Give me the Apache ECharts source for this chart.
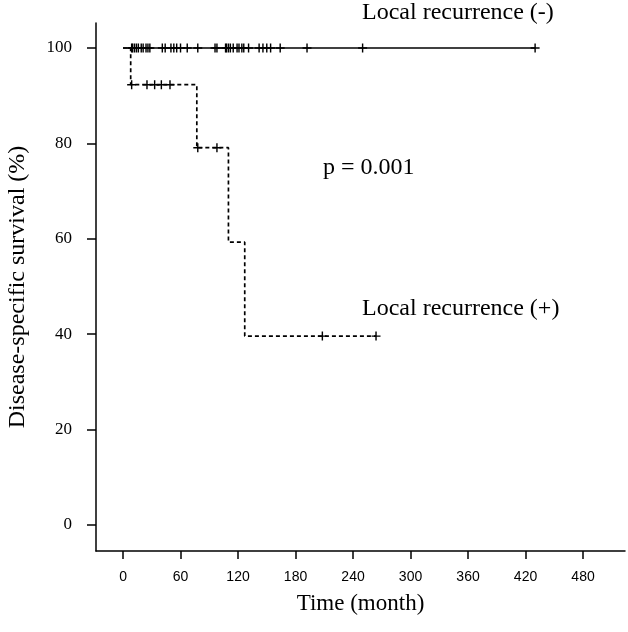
<!DOCTYPE html>
<html>
<head>
<meta charset="utf-8">
<script src="https://cdn.jsdelivr.net/npm/echarts@6/dist/echarts.min.js"></script>
<style>
  html, body { margin: 0; padding: 0; background: #fff; }
  #main { width: 628px; height: 632px; }
</style>
</head>
<body>
<div id="main"></div>
<script>
// tick labels
var xTicks = [0, 60, 120, 180, 240, 300, 360, 420, 480];
var yTicks = [0, 20, 40, 60, 80, 100];

// Local recurrence (-) : no events, survival stays 100
var negCurve = [[0, 100], [430, 100]];
var negCensorTimes = [9, 10, 12, 14, 16, 19, 21, 24, 26, 28, 41, 44, 50, 53, 56, 60, 67, 78,
    96, 98, 107, 108, 110, 112, 115, 119, 121, 124, 126, 131, 142, 146, 150, 154, 164, 192, 250, 430];

// Local recurrence (+) : step curve (time, survival after event)
var posCurve = [[0, 100], [8, 92.3], [77, 79.1], [110, 59.3], [127, 39.6], [264, 39.6]];
var posCensor = [[9, 92.3], [25, 92.3], [33, 92.3], [40, 92.3], [49, 92.3],
    [78, 79.1], [98, 79.1], [208, 39.6], [264, 39.6]];

var negCensor = negCensorTimes.map(function (t) { return [t, 100]; });

// plus sign for censored obs
var plusSym = 'path://M4,0h1.5v9.5h-1.5z M0,4h9.5v1.5h-9.5z';

var serif = '"Liberation Serif", "DejaVu Serif", serif';
var sans = '"Liberation Sans", Arial, sans-serif';

var myChart = echarts.init(document.getElementById('main'));

var option = {
    backgroundColor: '#fff',
    animation: false,
    grid: { left: 96, top: 23, width: 529, height: 528, containLabel: false, outerBoundsMode: 'none' },
    xAxis: {
        type: 'value',
        min: -28.2,
        max: 523.8,
        name: 'Time (month)',
        nameLocation: 'middle',
        nameGap: 41,
        nameTextStyle: { fontFamily: serif, fontSize: 23, color: '#000' },
        axisLine: { show: true, onZero: false, lineStyle: { color: '#000', width: 1.5 } },
        axisTick: { show: true, customValues: xTicks, length: 8, lineStyle: { color: '#000', width: 1.5 } },
        axisLabel: { customValues: xTicks, fontFamily: sans, fontSize: 14, color: '#000', margin: 19 },
        splitLine: { show: false }
    },
    yAxis: {
        type: 'value',
        min: -5.45,
        max: 105.24,
        name: 'Disease-specific survival (%)',
        nameLocation: 'middle',
        nameRotate: 90,
        nameGap: 66,
        nameTextStyle: { fontFamily: serif, fontSize: 24, color: '#000' },
        axisLine: { show: true, onZero: false, lineStyle: { color: '#000', width: 1.5 } },
        axisTick: { show: true, customValues: yTicks, length: 9, lineStyle: { color: '#000', width: 1.5 } },
        axisLabel: { customValues: yTicks, fontFamily: serif, fontSize: 17, color: '#000', margin: 24 },
        splitLine: { show: false }
    },
    series: [
        {
            name: 'Local recurrence (-)',
            type: 'line',
            data: negCurve,
            symbol: 'none',
            lineStyle: { color: '#000', width: 1.5 }
        },
        {
            name: 'Local recurrence (+)',
            type: 'line',
            step: 'end',
            data: posCurve,
            symbol: 'none',
            lineStyle: { color: '#000', width: 1.7, type: [4, 3] }
        },
        {
            type: 'scatter',
            data: negCensor,
            symbol: plusSym,
            symbolSize: [9, 9],
            itemStyle: { color: '#000', opacity: 1 }
        },
        {
            type: 'scatter',
            data: posCensor,
            symbol: plusSym,
            symbolSize: [9, 9],
            itemStyle: { color: '#000', opacity: 1 }
        }
    ],
    graphic: [
        { type: 'text', left: 362, top: 1, style: { text: 'Local recurrence (-)', font: '24px ' + serif, fill: '#000' } },
        { type: 'text', left: 323, top: 156, style: { text: 'p = 0.001', font: '24px ' + serif, fill: '#000' } },
        { type: 'text', left: 362, top: 297, style: { text: 'Local recurrence (+)', font: '24px ' + serif, fill: '#000' } }
    ]
};

myChart.setOption(option);
</script>
</body>
</html>
